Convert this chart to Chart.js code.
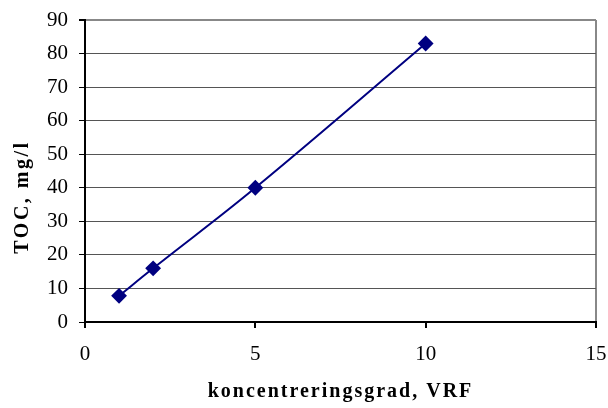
<!DOCTYPE html>
<html>
<head>
<meta charset="UTF-8">
<title>TOC vs koncentreringsgrad</title>
<script src="https://cdn.jsdelivr.net/npm/chart.js"></script>
<style>
  html, body { margin: 0; padding: 0; background: #fff; }
  #wrap { width: 608px; height: 408px; }
</style>
</head>
<body>
<div id="wrap"><canvas id="c" width="608" height="408"></canvas></div>
<script>
  // data
  const vrf = [1, 2, 5, 10];
  const toc = [7.8, 16, 40, 83];
  const xTicks = [0, 5, 10, 15];
  const yTicks = [0, 10, 20, 30, 40, 50, 60, 70, 80, 90];

  const serif = '"Liberation Serif", "Times New Roman", serif';

  // letter-spaced axis titles like the original
  const spacedTitles = {
    id: 'spacedTitles',
    afterUpdate(chart) {
      Object.values(chart.scales).forEach(s => {
        if (s._spaced) return;
        const orig = s.drawTitle;
        s.drawTitle = function () {
          const ctx = this.ctx;
          ctx.save();
          ctx.letterSpacing = this.axis === 'y' ? '2.5px' : '2px';
          if (this.axis === 'y') ctx.translate(0, 26);
          orig.apply(this, arguments);
          ctx.restore();
        };
        s._spaced = true;
      });
    }
  };

  new Chart(document.getElementById('c'), {
    type: 'scatter',
    data: {
      datasets: [{
        data: vrf.map((x, i) => ({ x: x, y: toc[i] })),
        showLine: true,
        borderColor: '#000080',
        backgroundColor: '#000080',
        borderWidth: 2,
        tension: 0.4,
        pointStyle: 'rectRot',
        pointRadius: 6.5,
        pointHoverRadius: 6.5
      }]
    },
    options: {
      responsive: false,
      animation: false,
      layout: { padding: { top: 20, right: 12, left: 0, bottom: 0 } },
      plugins: { legend: { display: false }, tooltip: { enabled: false } },
      scales: {
        x: {
          type: 'linear',
          min: 0, max: 15,
          afterBuildTicks: s => { s.ticks = xTicks.map(v => ({ value: v })); },
          afterFit: s => { s.height = 86; s.paddingLeft = 0; s.paddingRight = 0; },
          border: { color: '#000', width: 2 },
          grid: {
            color: c => c.tick && c.tick.value === 15 ? '#888' : 'rgba(0,0,0,0)',
            lineWidth: 2,
            tickColor: '#000',
            tickLength: 6
          },
          ticks: { color: '#000', padding: 14, font: { family: serif, size: 21 } },
          title: {
            display: true,
            text: 'koncentreringsgrad, VRF',
            color: '#000',
            padding: { top: 0, bottom: 4 },
            font: { family: serif, size: 20, weight: 'bold' }
          }
        },
        y: {
          min: 0, max: 90,
          afterBuildTicks: s => { s.ticks = yTicks.map(v => ({ value: v })); },
          afterFit: s => { s.width = 85; s.paddingTop = 0; s.paddingBottom = 0; },
          border: { color: '#000', width: 2 },
          grid: {
            color: c => c.tick && c.tick.value === 90 ? '#888' : '#555',
            lineWidth: c => c.tick && c.tick.value === 90 ? 2 : 1,
            tickColor: '#000',
            tickLength: 6
          },
          ticks: { color: '#000', padding: 11, font: { family: serif, size: 21 } },
          title: {
            display: true,
            text: 'TOC, mg/l',
            color: '#000',
            padding: { top: 11, bottom: 0 },
            font: { family: serif, size: 20, weight: 'bold' }
          }
        }
      }
    },
    plugins: [spacedTitles]
  });
</script>
</body>
</html>
